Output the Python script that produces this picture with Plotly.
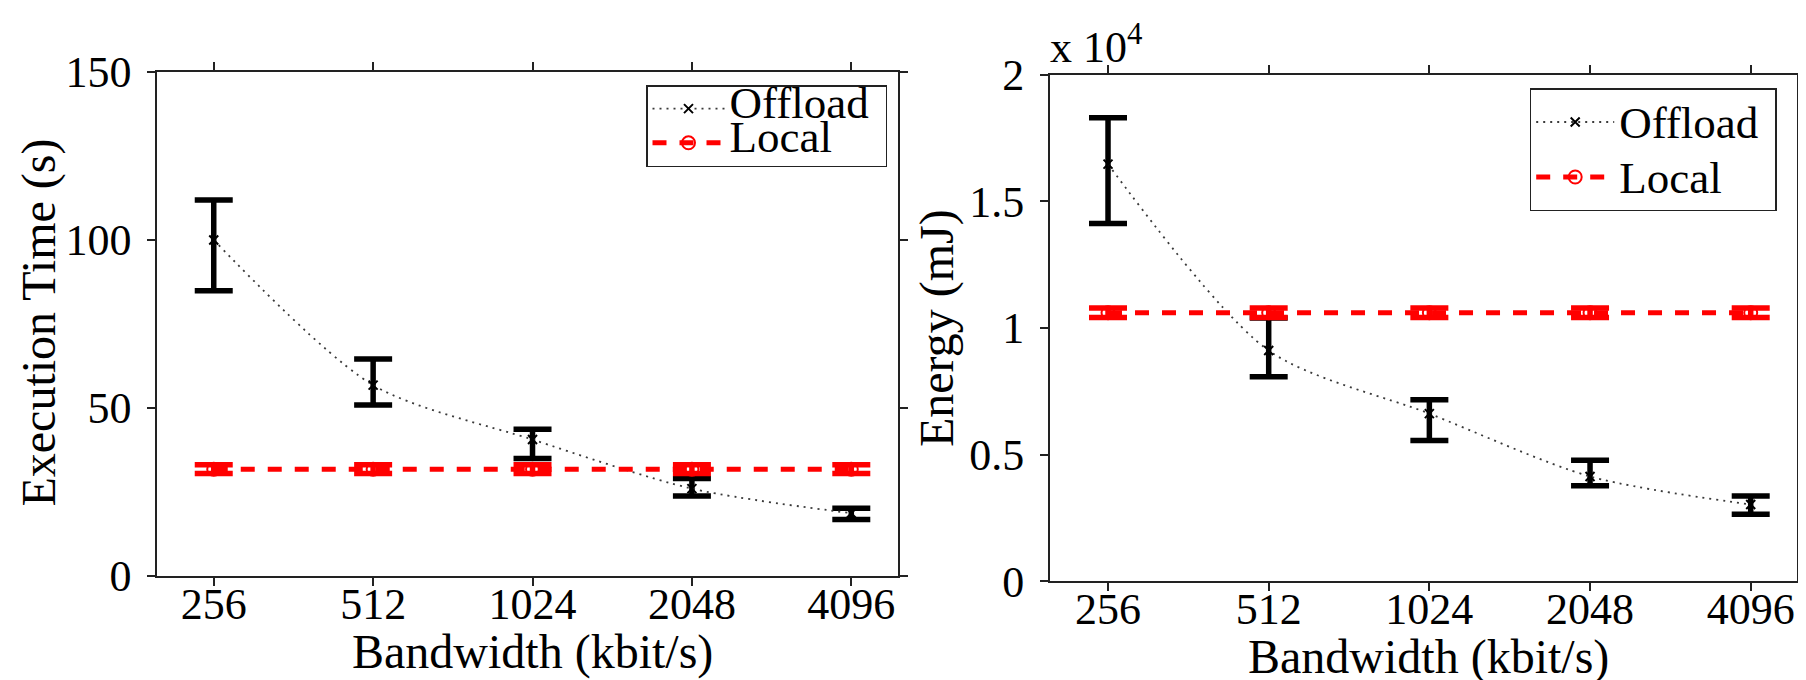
import plotly.graph_objects as go

# ---------------- data ----------------
bandwidth = ["256", "512", "1024", "2048", "4096"]

# Execution time (s)
offload_time = [100.0, 56.8, 40.6, 26.0, 18.7]
offload_time_hi = [111.9, 64.6, 43.7, 29.0, 20.2]
offload_time_lo = [84.9, 50.9, 35.0, 23.8, 16.8]
local_time = [31.8, 31.8, 31.8, 31.8, 31.8]
local_time_err = [1.3, 1.3, 1.3, 1.3, 1.3]

# Energy (mJ)
offload_energy = [16470, 9110, 6620, 4140, 3030]
offload_energy_hi = [18300, 10390, 7170, 4780, 3370]
offload_energy_lo = [14130, 8080, 5560, 3770, 2650]
local_energy = [10600, 10600, 10600, 10600, 10600]
local_energy_err = [190, 190, 190, 190, 190]

time_ticks = [0, 50, 100, 150]
energy_ticks = [0, 5000, 10000, 15000, 20000]
energy_ticktext = ["0", "0.5", "1", "1.5", "2"]

# --------------------------------------
FONT = "Liberation Serif"
W, H = 1806, 680
BLACK = "#000000"
RED = "#ff0000"
OFF_LINE = "#3a3a3a"


def plus(hi, mid):
    return [round(h - m, 3) for h, m in zip(hi, mid)]


def minus(lo, mid):
    return [round(m - l, 3) for l, m in zip(lo, mid)]


def big(name):
    return '<span style="font-size:45px">' + name + "&nbsp;</span>"


fig = go.Figure()

# ---- left panel ----
fig.add_trace(go.Scatter(
    x=bandwidth, y=offload_time, name=big("Offload"), mode="lines+markers",
    line=dict(color=OFF_LINE, width=1.8, dash="2px,5px", shape="spline", smoothing=0.8),
    marker=dict(symbol="x-thin", size=9, line=dict(color=BLACK, width=2), color=BLACK),
    error_y=dict(type="data", symmetric=False,
                 array=plus(offload_time_hi, offload_time),
                 arrayminus=minus(offload_time_lo, offload_time),
                 color=BLACK, thickness=5.5, width=19),
    xaxis="x", yaxis="y", legend="legend",
))
fig.add_trace(go.Scatter(
    x=bandwidth, y=local_time, name=big("Local"), mode="lines+markers",
    line=dict(color=RED, width=5, dash="14px,13px"),
    marker=dict(symbol="circle-open", size=13, line=dict(color=RED, width=2)),
    error_y=dict(type="data", array=local_time_err, color=RED, thickness=5.5, width=19),
    xaxis="x", yaxis="y", legend="legend",
))

# ---- right panel ----
fig.add_trace(go.Scatter(
    x=bandwidth, y=offload_energy, name=big("Offload"), mode="lines+markers",
    line=dict(color=OFF_LINE, width=1.8, dash="2px,5px", shape="spline", smoothing=0.8),
    marker=dict(symbol="x-thin", size=9, line=dict(color=BLACK, width=2), color=BLACK),
    error_y=dict(type="data", symmetric=False,
                 array=plus(offload_energy_hi, offload_energy),
                 arrayminus=minus(offload_energy_lo, offload_energy),
                 color=BLACK, thickness=5.5, width=19),
    xaxis="x2", yaxis="y2", legend="legend2",
))
fig.add_trace(go.Scatter(
    x=bandwidth, y=local_energy, name=big("Local"), mode="lines+markers",
    line=dict(color=RED, width=5, dash="14px,13px"),
    marker=dict(symbol="circle-open", size=13, line=dict(color=RED, width=2)),
    error_y=dict(type="data", array=local_energy_err, color=RED, thickness=5.5, width=19),
    xaxis="x2", yaxis="y2", legend="legend2",
))

axis_common = dict(
    showline=True, linecolor="#222222", linewidth=1.5, mirror="ticks",
    ticks="outside", ticklen=8, tickwidth=1.5, tickcolor="#222222",
    showgrid=False, zeroline=False, automargin=False,
    tickfont=dict(family=FONT, size=44, color=BLACK),
)
xaxis_common = dict(axis_common, type="category", ticklabelstandoff=-20)
yaxis_common = dict(axis_common, ticklabelstandoff=7)

title_font = dict(family=FONT, size=48, color=BLACK)

fig.update_layout(
    template="none",
    width=W, height=H,
    margin=dict(l=0, r=0, t=0, b=0, autoexpand=False),
    paper_bgcolor="white", plot_bgcolor="white",
    font=dict(family=FONT, color=BLACK),
    xaxis=dict(domain=[149 / W, 890 / W], anchor="y", range=[-0.356, 4.293], **xaxis_common),
    yaxis=dict(domain=[1 - 568 / H, 1 - 64 / H], anchor="x", range=[0, 150],
               tickvals=time_ticks, **yaxis_common),
    xaxis2=dict(domain=[1041.7 / W, 1789.3 / W], anchor="y2", range=[-0.363, 4.29],
                **xaxis_common),
    yaxis2=dict(domain=[1 - 573.3 / H, 1 - 66.7 / H], anchor="x2", range=[0, 20000],
                tickvals=energy_ticks, ticktext=energy_ticktext, **yaxis_common),
    legend=dict(x=879 / W, xanchor="right", y=1 - 77 / H, yanchor="top",
                bgcolor="white", bordercolor="#222222", borderwidth=1.5,
                font=dict(family=FONT, size=24, color=BLACK), itemwidth=72,
                tracegroupgap=0),
    legend2=dict(x=1768.7 / W, xanchor="right", y=1 - 80 / H, yanchor="top",
                 bgcolor="white", bordercolor="#222222", borderwidth=1.5,
                 font=dict(family=FONT, size=40, color=BLACK), itemwidth=78,
                 tracegroupgap=0),
    showlegend=True,
    annotations=[
        dict(text="x 10<sup>4</sup>", xref="paper", yref="paper",
             x=1040 / W, y=1 - 66 / H, xanchor="left", yanchor="bottom",
             showarrow=False, font=dict(family=FONT, size=44, color=BLACK)),
        dict(text="Execution Time (s)", xref="paper", yref="paper",
             x=30 / W, y=1 - 314.5 / H, xanchor="center", yanchor="middle",
             textangle=-90, showarrow=False, font=title_font),
        dict(text="Energy (mJ)", xref="paper", yref="paper",
             x=929 / W, y=1 - 320 / H, xanchor="center", yanchor="middle",
             textangle=-90, showarrow=False, font=title_font),
        dict(text="Bandwidth (kbit/s)", xref="paper", yref="paper",
             x=524 / W, y=1 - 644 / H, xanchor="center", yanchor="middle",
             showarrow=False, font=title_font),
        dict(text="Bandwidth (kbit/s)", xref="paper", yref="paper",
             x=1420 / W, y=1 - 649 / H, xanchor="center", yanchor="middle",
             showarrow=False, font=title_font),
    ],
)

fig.write_html("out.html")
